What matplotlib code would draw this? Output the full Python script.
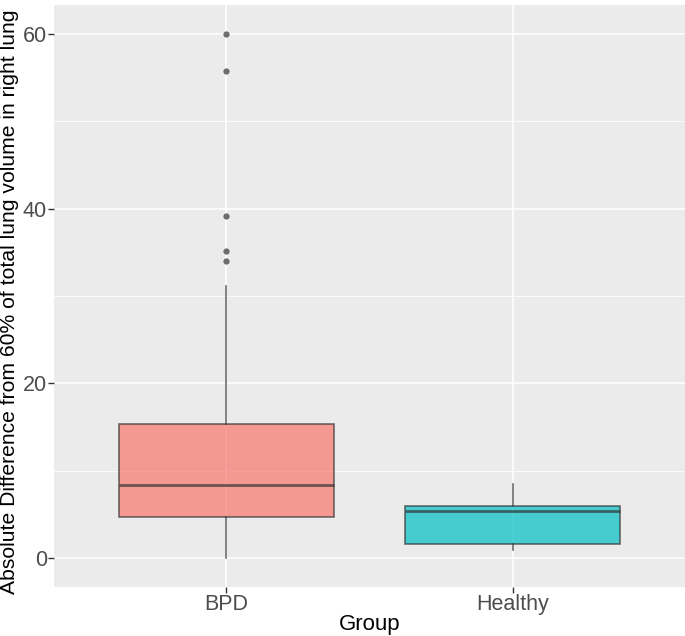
import matplotlib
matplotlib.use("Agg")
import matplotlib.pyplot as plt

# box statistics
groups = ["BPD", "Healthy"]
q1 = [4.7, 1.6]
med = [8.35, 5.4]
q3 = [15.3, 5.95]
whislo = [0.0, 0.9]
whishi = [31.2, 8.5]
outliers = [[60.0, 55.7, 39.1, 35.2, 34.0], []]
fills = ["#F8766D", "#00BFC4"]

plt.rcParams['font.family'] = ['Liberation Sans', 'DejaVu Sans']

fig = plt.figure(figsize=(6.85, 6.36), dpi=100)
ax = fig.add_axes([54 / 685, 49 / 636, 631 / 685, 582 / 636])
ax.set_facecolor("#EBEBEB")

stats = []
for i in range(len(groups)):
    stats.append(dict(label=groups[i], q1=q1[i], med=med[i], q3=q3[i],
                      whislo=whislo[i], whishi=whishi[i], fliers=outliers[i]))

bp = ax.bxp(stats, positions=[1, 2], widths=0.75, patch_artist=True,
            showcaps=False, zorder=3,
            boxprops=dict(edgecolor="#333333", linewidth=1.2),
            medianprops=dict(color="#333333", linewidth=2),
            whiskerprops=dict(color="#333333", linewidth=1.2),
            flierprops=dict(marker="o", markersize=4.5, markerfacecolor="#333333",
                            markeredgecolor="none"))
for patch, c in zip(bp["boxes"], fills):
    patch.set_facecolor(c)
    patch.set_alpha(0.7)
for key in ["medians", "whiskers", "fliers"]:
    for ln in bp[key]:
        ln.set_alpha(0.7)

ax.set_xlim(0.4, 2.6)
ax.set_ylim(-3.3, 63.3)
ax.set_yticks([0, 20, 40, 60])
ax.set_yticks([10, 30, 50], minor=True)
ax.grid(True, which="major", color="white", linewidth=1.1, zorder=0)
ax.grid(True, which="minor", axis="y", color="white", linewidth=0.55, zorder=0)
ax.set_axisbelow(True)
for s in ax.spines.values():
    s.set_visible(False)
ax.tick_params(axis="both", which="major", length=4, width=1, color="#333333",
               labelsize=15.5, labelcolor="#4D4D4D", pad=1)
ax.tick_params(axis="y", which="minor", length=0)

ax.set_xlabel("Group", fontsize=16, color="black")
ax.xaxis.set_label_coords(0.5, -0.046)
ax.set_ylabel("Absolute Difference from 60% of total lung volume in right lung",
              fontsize=15.2, color="black")
ax.yaxis.set_label_coords(-0.056, 0.49)

fig.savefig("out.png", dpi=100)
